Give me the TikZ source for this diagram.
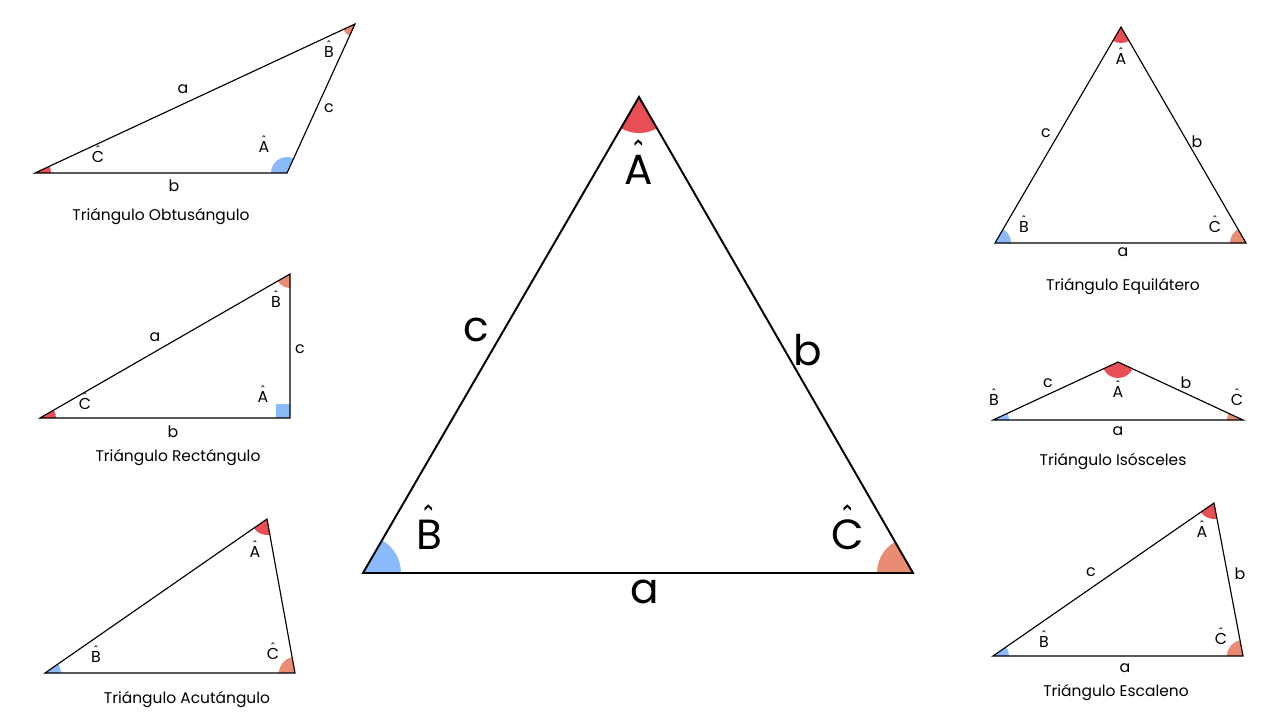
\documentclass[tikz,border=0pt]{standalone}
\usepackage{fontspec}
\setmainfont{Poppins}
\usetikzlibrary{angles}
\definecolor{angred}{RGB}{232,78,85}
\definecolor{angblue}{RGB}{139,186,250}
\definecolor{angorange}{RGB}{233,140,115}
\newcommand\hatl[1]{\leavevmode\ooalign{#1\cr\hidewidth\raisebox{\dimexpr\fontcharht\font`#1-\fontdimen5\font+0.16em\relax}{\scalebox{0.65}[1]{\char"02C6}}\hidewidth\cr}}
\tikzset{
	side/.style={draw=black, line width=0.65pt, line join=miter},
	sec/.style={draw=none, angle radius=0.32cm},
	lbl/.style={font=\fontsize{9}{10}\selectfont, inner sep=0pt},
	capt/.style={font=\fontsize{8.8}{11}\selectfont, inner sep=0pt},
	bigl/.style={font=\fontsize{24}{28}\selectfont, inner sep=0pt},
}
\begin{document}
\begin{tikzpicture}[x=0.02cm, y=-0.02cm]
		\useasboundingbox [fill=white](0,0) rectangle (1280,720);
		% obtuse
		\coordinate (Bo) at (355,24); \coordinate (Co) at (35,173); \coordinate (Ao) at (287,173);
		\pic [sec, fill=angorange, angle radius=0.26cm] {angle=Co--Bo--Ao};
		\pic [sec, fill=angred] {angle=Ao--Co--Bo};
		\pic [sec, fill=angblue] {angle=Bo--Ao--Co};
		\draw [side](Bo)--(Co)--(Ao)--cycle;
		\node [lbl] (oa) at (183,89) {a};
		\node [lbl] (oc) at (329,108) {c};
		\node [lbl] (ob) at (174,186) {b};
		\node [lbl] (oC) at (98,157) {\hatl{C}};
		\node [lbl] (oA) at (264,147) {\hatl{A}};
		\node [lbl] (oB) at (329,52) {\hatl{B}};
		\node [capt] (ocap) at (161,217) {Triángulo Obtusángulo};
		% right
		\coordinate (Br) at (290,274); \coordinate (Cr) at (40,418); \coordinate (Ar) at (290,418);
		\pic [sec, fill=angorange, angle radius=0.28cm] {angle=Cr--Br--Ar};
		\pic [sec, fill=angred] {angle=Ar--Cr--Br};
		\fill [angblue](Ar) rectangle ++(-14,-14);
		\draw [side](Br)--(Cr)--(Ar)--cycle;
		\node [lbl] (ra) at (155,337) {a};
		\node [lbl] (rc) at (300,349) {c};
		\node [lbl] (rb) at (173,432) {b};
		\node [lbl] (rC) at (85,404) {\hatl{C}};
		\node [lbl] (rA) at (263,397) {\hatl{A}};
		\node [lbl] (rB) at (276,302) {\hatl{B}};
		\node [capt] (rcap) at (178,458) {Triángulo Rectángulo};
		% acute
		\coordinate (Aa) at (267,519); \coordinate (Ba) at (45,673); \coordinate (Ca) at (295,673);
		\pic [sec, fill=angred] {angle=Ba--Aa--Ca};
		\pic [sec, fill=angblue] {angle=Ca--Ba--Aa};
		\pic [sec, fill=angorange] {angle=Aa--Ca--Ba};
		\draw [side](Aa)--(Ba)--(Ca)--cycle;
		\node [lbl] (aA) at (255,552) {\hatl{A}};
		\node [lbl] (aB) at (96,657) {\hatl{B}};
		\node [lbl] (aC) at (273,654) {\hatl{C}};
		\node [capt] (acap) at (187,700) {Triángulo Acutángulo};
		% central
		\coordinate (A) at (639,97); \coordinate (B) at (363,573); \coordinate (C) at (913,573);
		\pic [sec, fill=angred, angle radius=0.72cm] {angle=B--A--C};
		\pic [sec, fill=angblue, angle radius=0.76cm] {angle=C--B--A};
		\pic [sec, fill=angorange, angle radius=0.72cm] {angle=A--C--B};
		\draw [side, line width=1.1pt](A)--(B)--(C)--cycle;
		\node [bigl] (cA) at (639,170) {\hatl{A}};
		\node [bigl] (cB) at (429,535) {\hatl{B}};
		\node [bigl] (cC) at (848,535) {\hatl{C}};
		\node [bigl] (cc) at (476,330) {c};
		\node [bigl] (cb) at (808,350) {b};
		\node [bigl] (ca) at (645,592) {a};
		% equilateral
		\coordinate (Ae) at (1121,27); \coordinate (Be) at (995,243); \coordinate (Ce) at (1246,243);
		\pic [sec, fill=angred] {angle=Be--Ae--Ce};
		\pic [sec, fill=angblue] {angle=Ce--Be--Ae};
		\pic [sec, fill=angorange] {angle=Ae--Ce--Be};
		\draw [side](Ae)--(Be)--(Ce)--cycle;
		\node [lbl] (eA) at (1121,59) {\hatl{A}};
		\node [lbl] (ec) at (1046,133) {c};
		\node [lbl] (eb) at (1197,142) {b};
		\node [lbl] (eB) at (1024,227) {\hatl{B}};
		\node [lbl] (eC) at (1215,227) {\hatl{C}};
		\node [lbl] (ea) at (1123,252) {a};
		\node [capt] (ecap) at (1123,287) {Triángulo Equilátero};
		% isosceles
		\coordinate (Ai) at (1118,362); \coordinate (Bi) at (993,420); \coordinate (Ci) at (1243,420);
		\pic [sec, fill=angred] {angle=Bi--Ai--Ci};
		\pic [sec, fill=angblue] {angle=Ci--Bi--Ai};
		\pic [sec, fill=angorange] {angle=Ai--Ci--Bi};
		\draw [side](Ai)--(Bi)--(Ci)--cycle;
		\node [lbl] (ic) at (1048,383) {c};
		\node [lbl] (ib) at (1186,383) {b};
		\node [lbl] (iA) at (1118,392) {\hatl{A}};
		\node [lbl] (iB) at (994,400) {\hatl{B}};
		\node [lbl] (iC) at (1237,400) {\hatl{C}};
		\node [lbl] (ia) at (1118,431) {a};
		\node [capt] (icap) at (1113,461) {Triángulo Isósceles};
		% scalene
		\coordinate (As) at (1214,503); \coordinate (Bs) at (993,656); \coordinate (Cs) at (1243,656);
		\pic [sec, fill=angred] {angle=Bs--As--Cs};
		\pic [sec, fill=angblue] {angle=Cs--Bs--As};
		\pic [sec, fill=angorange] {angle=As--Cs--Bs};
		\draw [side](As)--(Bs)--(Cs)--cycle;
		\node [lbl] (sA) at (1202,532) {\hatl{A}};
		\node [lbl] (sc) at (1091,572) {c};
		\node [lbl] (sb) at (1240,574) {b};
		\node [lbl] (sB) at (1044,642) {\hatl{B}};
		\node [lbl] (sC) at (1221,639) {\hatl{C}};
		\node [lbl] (sa) at (1125,668) {a};
		\node [capt] (scap) at (1116,693) {Triángulo Escaleno};
		
		\end{tikzpicture}
\end{document}
